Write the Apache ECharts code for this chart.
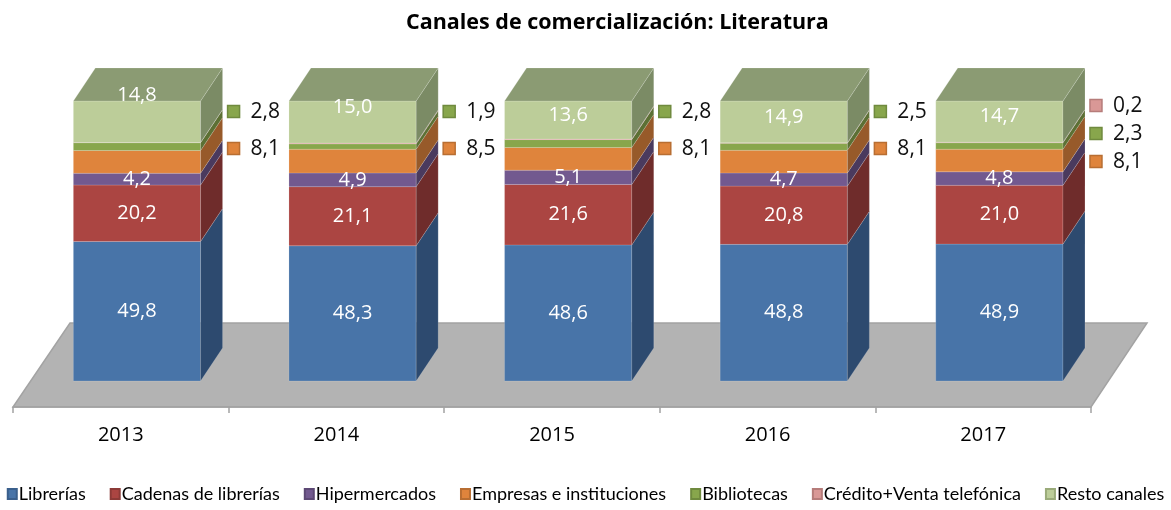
<!DOCTYPE html>
<html>
<head>
<meta charset="utf-8">
<script src="https://cdn.jsdelivr.net/npm/echarts@6/dist/echarts.min.js"></script>
<style>
  html, body { margin: 0; padding: 0; background: #fff; }
  #chart { width: 1171px; height: 510px; }
</style>
</head>
<body>
<div id="chart"></div>
<script>
const years = ['2013', '2014', '2015', '2016', '2017'];
const channels = ['Librerías', 'Cadenas de librerías', 'Hipermercados', 'Empresas e instituciones', 'Bibliotecas', 'Crédito+Venta telefónica', 'Resto canales'];

const librerias = [49.8, 48.3, 48.6, 48.8, 48.9];
const cadenas = [20.2, 21.1, 21.6, 20.8, 21.0];
const hipermercados = [4.2, 4.9, 5.1, 4.7, 4.8];
const empresas = [8.1, 8.5, 8.1, 8.1, 8.1];
const bibliotecas = [2.8, 1.9, 2.8, 2.5, 2.3];
const credito = [0.1, 0.3, 0.2, 0.2, 0.2];
const resto = [14.8, 15.0, 13.6, 14.9, 14.7];

const values = [librerias, cadenas, hipermercados, empresas, bibliotecas, credito, resto];

// where each label goes: inside the bar, beside it with a key, or only for some years
const labelMode = ['inside', 'inside', 'inside', 'side', 'side', 'side', 'inside'];
const creditoShown = [false, false, false, false, true];
const restoLabelShift = [-26, -15, -5, -5, -5];

const front = ['#4874a8', '#ab4542', '#72598f', '#df843c', '#88a64c', '#d99896', '#bccd99'];
const side = ['#2d4a6f', '#6f2c2b', '#4a3a5e', '#975a2a', '#5c7034', '#9a6664', '#7b8b65'];
const border = ['#3a5f8c', '#8c3a37', '#5d4975', '#b86e32', '#6f8a3e', '#b67c7a', '#9aab7a'];
const topColor = '#8b9b73';

// stacked starts/ends
const stacks = values.map(() => []);
for (let y = 0; y < years.length; y++) {
  let acc = 0;
  for (let s = 0; s < values.length; s++) {
    stacks[s].push([y, acc, acc + values[s][y], values[s][y]]);
    acc += values[s][y];
  }
}

// order of the side labels per year, top first
const sideRank = values.map(() => years.map(() => -1));
const sideCount = years.map(() => 0);
for (let y = 0; y < years.length; y++) {
  for (let s = values.length - 1; s >= 0; s--) {
    const shown = labelMode[s] === 'side' && (s !== 5 || creditoShown[y]);
    if (shown) sideRank[s][y] = sideCount[y]++;
  }
}

const fmt = v => v.toFixed(1).replace('.', ',');
const DX = 22, DY = -33;

function barGeom(api, i) {
  const c = api.coord([i, 0]);
  const band = api.size([1, 0])[0];
  const w = band * 0.59;
  const xl = c[0] + band * 0.075 - w / 2;
  return { xl: xl, xr: xl + w };
}

function makeRender(s) {
  return function (params, api) {
    const i = api.value(0);
    const g = barGeom(api, i);
    const yb = api.coord([i, api.value(1)])[1];
    const yt = api.coord([i, api.value(2)])[1];
    const line = { stroke: 'rgba(255,255,255,0.25)', lineWidth: 0.6 };
    const children = [
      { type: 'rect', shape: { x: g.xl, y: yt, width: g.xr - g.xl, height: yb - yt },
        style: Object.assign({ fill: front[s] }, line) },
      { type: 'polygon', shape: { points: [[g.xr, yb], [g.xr, yt], [g.xr + DX, yt + DY], [g.xr + DX, yb + DY]] },
        style: Object.assign({ fill: side[s] }, line) }
    ];
    if (s === values.length - 1) {
      children.push({ type: 'polygon',
        shape: { points: [[g.xl, yt], [g.xr, yt], [g.xr + DX, yt + DY], [g.xl + DX, yt + DY]] },
        style: Object.assign({ fill: topColor }, line) });
    }
    if (labelMode[s] === 'inside') {
      const shift = s === values.length - 1 ? restoLabelShift[i] : 0;
      children.push({ type: 'text', z2: 10,
        style: { text: fmt(api.value(3)), x: (g.xl + g.xr) / 2, y: (yb + yt) / 2 + shift,
          fill: '#fff', fontSize: 20, fontFamily: 'Open Sans', align: 'center', verticalAlign: 'middle' } });
    } else if (sideRank[s][i] >= 0) {
      const n = sideCount[i];
      const top = api.coord([i, 100])[1];
      const ly = top + (n > 2 ? 5 : 11) + sideRank[s][i] * (n > 2 ? 28 : 37);
      children.push({ type: 'rect', shape: { x: g.xr + 27, y: ly - 6.5, width: 12, height: 12 },
        style: { fill: front[s], stroke: border[s], lineWidth: 1.5 } });
      children.push({ type: 'text',
        style: { text: fmt(api.value(3)), x: g.xr + 50, y: ly, fill: '#111', fontSize: 21,
          fontFamily: 'Open Sans', align: 'left', verticalAlign: 'middle' } });
    }
    return { type: 'group', children: children };
  };
}

const floorSeries = {
  type: 'custom',
  name: 'floor',
  silent: true,
  data: [[0, 0]],
  z: 1,
  renderItem: function (params, api) {
    const band = api.size([1, 0])[0];
    const c0 = api.coord([0, 0]);
    const left = c0[0] - band / 2;
    const right = left + band * years.length;
    const yf = c0[1] + 26, yk = c0[1] - 58;
    return { type: 'polygon',
      shape: { points: [[left, yf], [right, yf], [right + 56, yk], [left + 57, yk]] },
      style: { fill: '#b3b3b3', stroke: '#a3a3a3', lineWidth: 1.5 } };
  }
};

const series = [floorSeries].concat(values.map((v, s) => ({
  type: 'custom',
  name: channels[s],
  z: 2,
  itemStyle: { color: front[s], borderColor: border[s], borderWidth: 1 },
  encode: { x: 0, y: 2 },
  data: stacks[s],
  renderItem: makeRender(s)
})));

const chart = echarts.init(document.getElementById('chart'));
chart.setOption({
  animation: false,
  backgroundColor: '#fff',
  title: {
    text: 'Canales de comercialización: Literatura',
    left: 401,
    top: 7,
    textStyle: { fontFamily: 'Open Sans', fontWeight: 'bold', fontSize: 21.5, color: '#000' }
  },
  legend: {
    data: channels,
    left: 'center',
    bottom: 2,
    icon: 'rect',
    itemWidth: 9,
    itemHeight: 10,
    itemGap: 24,
    textStyle: { fontFamily: 'Lato', fontSize: 18, color: '#000', padding: [0, 0, 0, -3] }
  },
  grid: { left: 13, right: 80, top: 101, bottom: 129 },
  xAxis: {
    type: 'category',
    data: years,
    offset: 26,
    z: 5,
    axisLine: { show: true, onZero: false, lineStyle: { color: '#a3a3a3', width: 1.5 } },
    axisTick: { show: true, length: 6, lineStyle: { color: '#a3a3a3', width: 1.5 } },
    axisLabel: { margin: 18, fontFamily: 'Open Sans', fontSize: 20, color: '#000' }
  },
  yAxis: { type: 'value', min: 0, max: 100, show: false },
  series: series
});
</script>
</body>
</html>
